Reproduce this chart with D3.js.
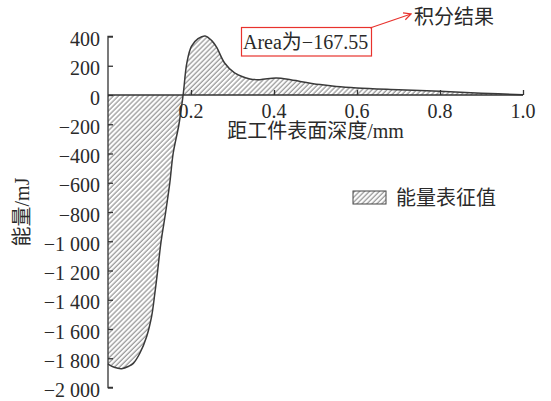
<!DOCTYPE html>
<html>
<head>
<meta charset="utf-8">
<script src="https://cdn.jsdelivr.net/npm/d3@7/dist/d3.min.js"></script>
<style>
  html, body { margin: 0; padding: 0; background: #fff; }
  svg { display: block; }
  text { font-family: "Liberation Serif", "Noto Sans CJK SC", serif; fill: #2a2a2a; }
</style>
</head>
<body>
<svg id="chart" width="551" height="401"></svg>
<script>
// Depth below the workpiece surface (mm) and the energy value (mJ) at that depth
const depth = [0.000, 0.015, 0.033, 0.050, 0.061, 0.077, 0.093, 0.105, 0.113, 0.119,
               0.128, 0.139, 0.149, 0.157, 0.171, 0.181, 0.190, 0.201, 0.217, 0.234,
               0.250, 0.262, 0.281, 0.305, 0.342, 0.366, 0.405, 0.440, 0.463, 0.511,
               0.550, 0.600, 0.700, 0.800, 0.900, 1.000];
const energy = [-1840, -1862, -1871, -1855, -1835, -1764, -1653, -1516, -1354, -1217,
                -1000, -800, -600, -400, -200, 0, 219, 333, 385, 404,
                372, 325, 219, 151, 110, 105, 117, 105, 93, 71,
                58, 48, 36, 25, 12, 2];

const xTicks = [0.2, 0.4, 0.6, 0.8, 1.0];
const xTickLabels = ["0.2", "0.4", "0.6", "0.8", "1.0"];
const yTicks = [400, 200, 0, -200, -400, -600, -800, -1000, -1200, -1400, -1600, -1800, -2000];
const yTickLabels = ["400", "200", "0", "\u2212200", "\u2212400", "\u2212600", "\u2212800",
                     "\u22121\u00a0000", "\u22121\u00a0200", "\u22121\u00a0400", "\u22121\u00a0600",
                     "\u22121\u00a0800", "\u22122\u00a0000"];

const xTitle = "距工件表面深度/mm";
const yTitle = "能量/mJ";
const legendLabel = "能量表征值";
const areaNote = "Area为\u2212167.55";
const calloutText = "积分结果";

const svg = d3.select("#chart");
const x = d3.scaleLinear().domain([0, 1]).range([108, 523]);
const y = d3.scaleLinear().domain([-2000, 400]).range([387.5, 36.5]);

const defs = svg.append("defs");
defs.append("pattern")
  .attr("id", "hatch")
  .attr("patternUnits", "userSpaceOnUse")
  .attr("width", 3.5).attr("height", 3.5)
  .attr("patternTransform", "rotate(45)")
  .append("line")
  .attr("x1", 1).attr("y1", 0).attr("x2", 1).attr("y2", 3.5)
  .attr("stroke", "#5a5a5a").attr("stroke-width", 0.8);

defs.append("marker")
  .attr("id", "arrow")
  .attr("viewBox", "0 0 10 10")
  .attr("refX", 9).attr("refY", 5)
  .attr("markerWidth", 9).attr("markerHeight", 9)
  .attr("markerUnits", "userSpaceOnUse")
  .attr("orient", "auto")
  .append("path")
  .attr("d", "M1,1 L9,5 L1,9")
  .attr("fill", "none").attr("stroke", "#e8322d").attr("stroke-width", 1.4);

const pts = depth.map((d, i) => [d, energy[i]]);
const smooth = d3.curveCatmullRom.alpha(0.5);

// Hatched region between the curve and zero
svg.append("path")
  .datum(pts)
  .attr("fill", "url(#hatch)")
  .attr("d", d3.area().curve(smooth)
    .x(d => x(d[0])).y0(y(0)).y1(d => y(d[1])));

// Energy curve
svg.append("path")
  .datum(pts)
  .attr("fill", "none")
  .attr("stroke", "#3a3a3a")
  .attr("stroke-width", 1.5)
  .attr("d", d3.line().curve(smooth).x(d => x(d[0])).y(d => y(d[1])));

// Y axis with inward ticks
const yAxis = svg.append("g")
  .attr("transform", `translate(${x(0)},0)`)
  .call(d3.axisRight(y).tickValues(yTicks).tickSize(5).tickFormat(""));
yAxis.select(".domain").attr("d", `M5,${y(400)}H0V${y(-2000)}H5`);
yAxis.selectAll("line, path").attr("stroke", "#333").attr("stroke-width", 1.3);

svg.append("g").selectAll("text")
  .data(yTicks)
  .join("text")
  .attr("x", 100)
  .attr("y", d => y(d) + 2.5)
  .attr("text-anchor", "end")
  .attr("dominant-baseline", "central")
  .attr("font-size", 20)
  .text((d, i) => yTickLabels[i]);

// X axis along zero with upward ticks
const xAxis = svg.append("g")
  .attr("transform", `translate(0,${y(0)})`)
  .call(d3.axisTop(x).tickValues(xTicks).tickSize(5).tickFormat(""));
xAxis.select(".domain").attr("d", `M${x(0)},0H${x(1)}`);
xAxis.selectAll("line, path").attr("stroke", "#333").attr("stroke-width", 1.3);

svg.append("g").selectAll("text")
  .data(xTicks)
  .join("text")
  .attr("x", d => x(d))
  .attr("y", y(0) + 23)
  .attr("text-anchor", "middle")
  .attr("font-size", 20)
  .text((d, i) => xTickLabels[i]);

// Axis titles
svg.append("text")
  .attr("x", (x(0) + x(1)) / 2)
  .attr("y", 138)
  .attr("text-anchor", "middle")
  .attr("font-size", 20)
  .text(xTitle);

svg.append("text")
  .attr("transform", "translate(29,212) rotate(-90)")
  .attr("text-anchor", "middle")
  .attr("font-size", 20)
  .text(yTitle);

// Legend
svg.append("rect")
  .attr("x", 353).attr("y", 191)
  .attr("width", 33).attr("height", 13)
  .attr("fill", "url(#hatch)")
  .attr("stroke", "#444").attr("stroke-width", 1);
svg.append("text")
  .attr("x", 396).attr("y", 205)
  .attr("font-size", 20)
  .text(legendLabel);

// Integral annotation
svg.append("rect")
  .attr("x", 241.5).attr("y", 27.5)
  .attr("width", 130).attr("height", 28.5)
  .attr("fill", "none")
  .attr("stroke", "#e8322d").attr("stroke-width", 1.2);
svg.append("text")
  .attr("x", 243).attr("y", 49)
  .attr("font-size", 20)
  .text(areaNote);
svg.append("line")
  .attr("x1", 370).attr("y1", 28)
  .attr("x2", 411).attr("y2", 14)
  .attr("stroke", "#e8322d").attr("stroke-width", 1.2)
  .attr("marker-end", "url(#arrow)");
svg.append("text")
  .attr("x", 414).attr("y", 24)
  .attr("font-size", 20)
  .text(calloutText);
</script>
</body>
</html>
